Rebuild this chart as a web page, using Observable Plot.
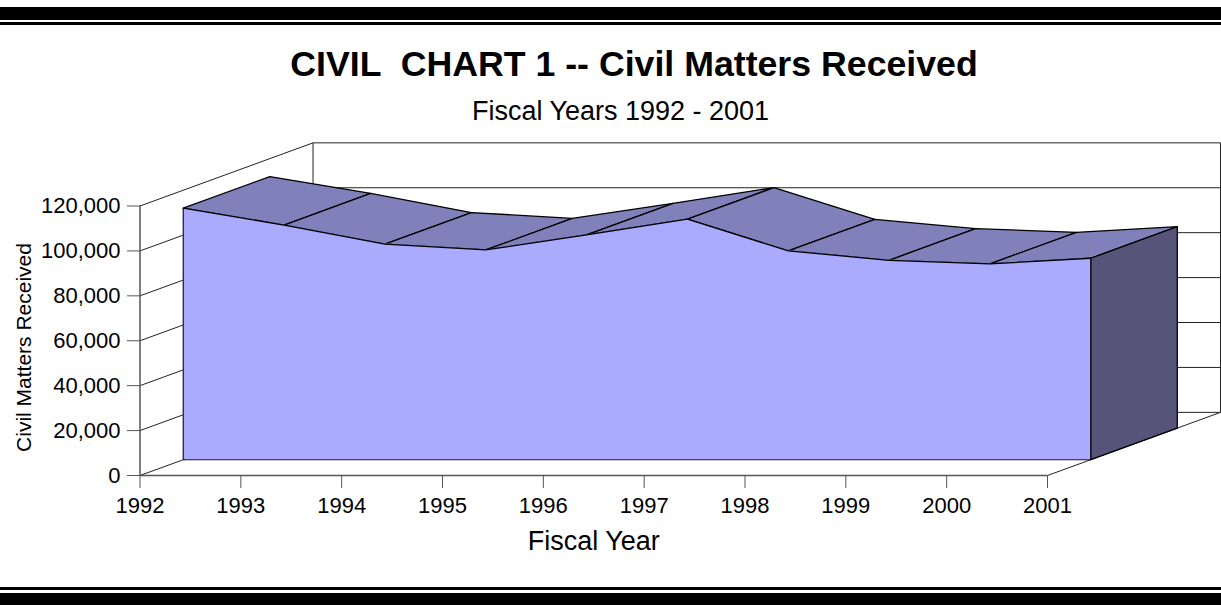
<!DOCTYPE html>
<html>
<head>
<meta charset="utf-8">
<script src="https://cdn.jsdelivr.net/npm/d3@7"></script>
<script src="https://cdn.jsdelivr.net/npm/@observablehq/plot@0.6"></script>
<style>
  html, body { margin: 0; padding: 0; background: #fff; overflow: hidden; }
  body { width: 1221px; height: 605px; position: relative; font-family: "Liberation Sans", Arial, sans-serif; color: #000; }
  .bar { position: absolute; left: 0; width: 1221px; background: #000; }
  #title { position: absolute; left: 0; top: 44px; width: 1268px; text-align: center; font-size: 35.7px; line-height: 40px; font-weight: bold; white-space: pre; }
  #subtitle { position: absolute; left: 0; top: 96px; width: 1241px; text-align: center; font-size: 27px; line-height: 30px; }
  #chart { position: absolute; left: 0; top: 130px; }
  svg { display: block; }
</style>
</head>
<body>
<div class="bar" style="top:7px;height:13px"></div>
<div class="bar" style="top:22px;height:3px"></div>
<div id="title">CIVIL  CHART 1 -- Civil Matters Received</div>
<div id="subtitle">Fiscal Years 1992 - 2001</div>
<div id="chart"></div>
<div class="bar" style="top:587px;height:3px"></div>
<div class="bar" style="top:593px;height:12px"></div>
<script>
const years = [1992, 1993, 1994, 1995, 1996, 1997, 1998, 1999, 2000, 2001];
const matters = [112000, 104500, 96000, 93400, 100100, 107100, 93000, 88800, 87200, 89700];
const yTicks = [0, 20000, 40000, 60000, 80000, 100000, 120000];

// Oblique projection: one depth step moves a point right and up, in data units.
const yearsPerDepth = 0.429;
const valuePerDepth = 7030;
const px = (year, depth) => year + depth * yearsPerDepth;
const py = (value, depth) => value + depth * valuePerDepth;
const AXIS = 0, FRONT = 1, REAR = 3, WALL = 4;
const first = years[0], last = years[years.length - 1], yMax = yTicks[yTicks.length - 1];

const seg = (y1, v1, d1, y2, v2, d2) => ({x1: px(y1, d1), y1: py(v1, d1), x2: px(y2, d2), y2: py(v2, d2)});
const poly = (id, corners) => corners.concat([corners[0]]).map(([y, v, d]) => ({id, x: px(y, d), y: py(v, d)}));

const wallLines = [
  ...yTicks.map(v => seg(first, v, AXIS, first, v, WALL)),
  ...yTicks.map(v => seg(first, v, WALL, last, v, WALL)),
  seg(first, 0, WALL, first, yMax, WALL),
  seg(last, 0, WALL, last, yMax, WALL),
  seg(last, 0, AXIS, last, 0, WALL)
];

const frontFace = years.map((year, i) => ({x: px(year, FRONT), y1: py(0, FRONT), y2: py(matters[i], FRONT)}));
const sideFace = poly("side", [[last, 0, FRONT], [last, 0, REAR], [last, matters[9], REAR], [last, matters[9], FRONT]]);
const ribbon = years.slice(1).flatMap((year, i) => poly(i, [
  [years[i], matters[i], FRONT], [year, matters[i + 1], FRONT],
  [year, matters[i + 1], REAR], [years[i], matters[i], REAR]
]));

const lineColor = "#222";
const plot = Plot.plot({
  width: 1221,
  height: 455,
  marginLeft: 140,
  marginRight: 174,
  marginTop: 76,
  marginBottom: 110,
  x: {domain: [1992, 2001], range: [139.5, 1047], label: null},
  y: {domain: [0, 120000], range: [345, 75.5], label: null},
  style: {fontFamily: "'Liberation Sans', Arial, sans-serif", fontSize: "22px", color: "#000", background: "#fff", overflow: "visible"},
  marks: [
    Plot.link(wallLines, {x1: "x1", y1: "y1", x2: "x2", y2: "y2", stroke: lineColor, strokeWidth: 1}),
    Plot.line(ribbon, {x: "x", y: "y", z: "id", fill: "#8080bb", stroke: "#000", strokeWidth: 1.3, curve: "linear"}),
    Plot.line(sideFace, {x: "x", y: "y", z: "id", fill: "#565579", stroke: "#000", strokeWidth: 1.3}),
    Plot.areaY(frontFace, {x: "x", y1: "y1", y2: "y2", fill: "#aaaaff"}),
    Plot.lineY(frontFace, {x: "x", y: "y2", stroke: "#000", strokeWidth: 1.3}),
    Plot.link([seg(first, 0, FRONT, last, 0, FRONT), seg(first, 0, FRONT, first, matters[0], FRONT), seg(last, 0, FRONT, last, matters[9], FRONT)],
      {x1: "x1", y1: "y1", x2: "x2", y2: "y2", stroke: "#111", strokeWidth: 1.1}),
    Plot.ruleX([first], {y1: 0, y2: yMax, stroke: "#555", strokeWidth: 1.5}),
    Plot.ruleY([0], {x1: first, x2: last, stroke: "#555", strokeWidth: 1.5}),
    Plot.axisY({anchor: "left", ticks: yTicks, tickFormat: d3.format(","), tickSize: 13, tickPadding: 7, fontSize: 22, stroke: "#555", label: null}),
    Plot.axisX({anchor: "bottom", ticks: years, tickFormat: d3.format("d"), tickSize: 13, tickPadding: 9, fontSize: 22, stroke: "#555", label: null}),
    Plot.text(["Fiscal Year"], {x: [1996.5], frameAnchor: "bottom", dy: 74, fontSize: 27, fill: "#000"}),
    Plot.text(["Civil Matters Received"], {y: [57000], frameAnchor: "left", dx: -116, rotate: -90, textAnchor: "middle", fontSize: 21, fill: "#000"})
  ]
});
document.getElementById("chart").appendChild(plot);
</script>
</body>
</html>
